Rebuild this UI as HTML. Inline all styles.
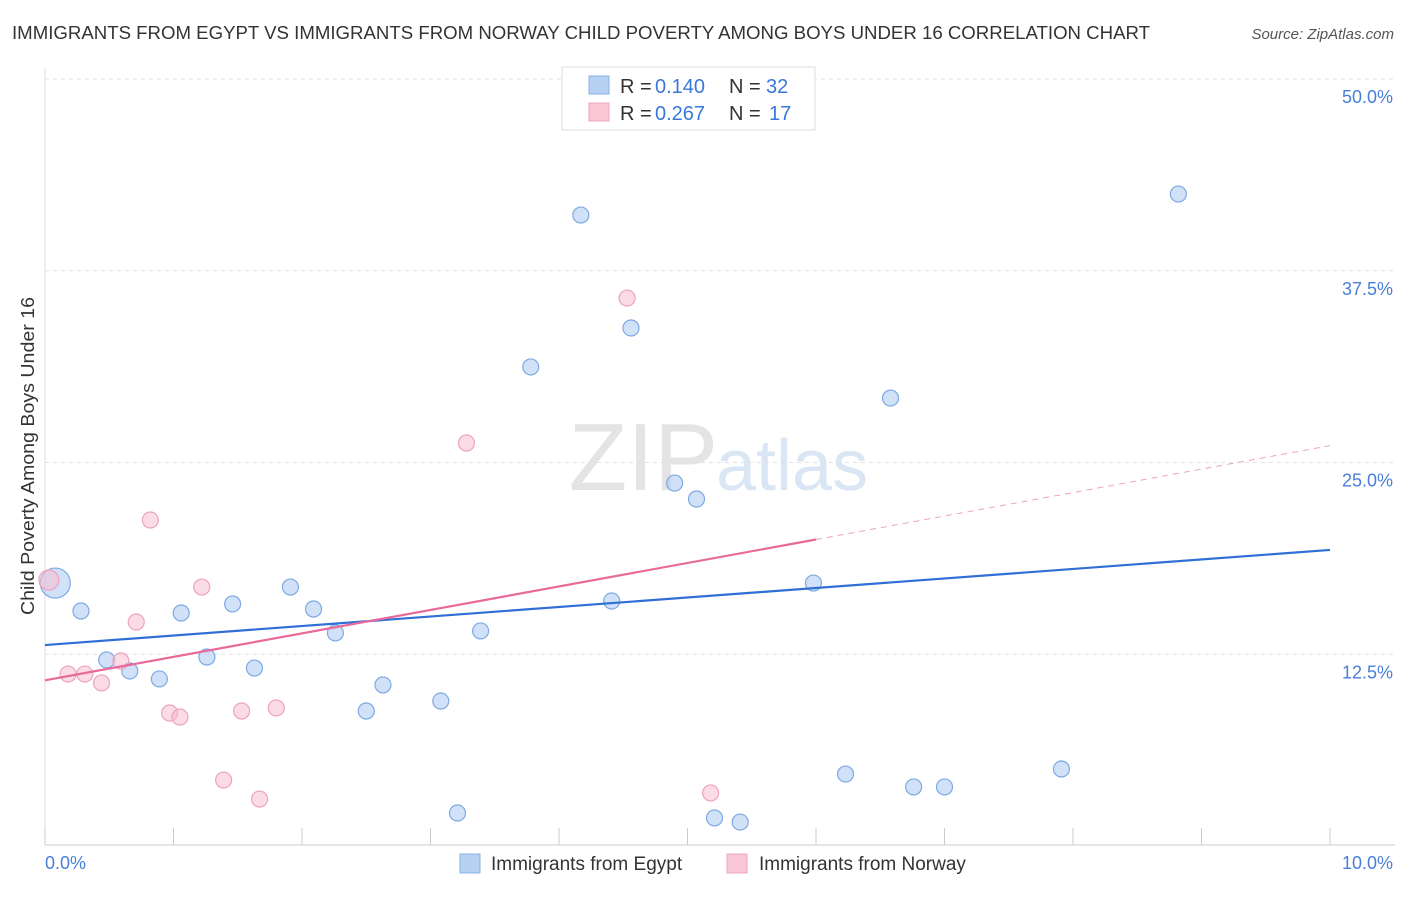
<!DOCTYPE html>
<html><head><meta charset="utf-8"><style>
body{margin:0;background:#fff;font-family:"Liberation Sans",sans-serif;}
svg text{font-family:"Liberation Sans",sans-serif;}
</style></head><body>
<svg id="chart" width="1406" height="892">
<text x="12" y="39" font-size="18" fill="#333" textLength="1138" lengthAdjust="spacingAndGlyphs">IMMIGRANTS FROM EGYPT VS IMMIGRANTS FROM NORWAY CHILD POVERTY AMONG BOYS UNDER 16 CORRELATION CHART</text>
<text x="1394" y="39" font-size="15" fill="#555" font-style="italic" text-anchor="end">Source: ZipAtlas.com</text>
<text x="718" y="490" font-size="96" fill="#e4e4e4" text-anchor="end" font-family="Liberation Serif">ZIP</text>
<text x="716" y="490" font-size="72" fill="#dbe6f5">atlas</text>
<g id="grid"></g><g id="marks"></g>
<text transform="translate(34,456) rotate(-90)" font-size="18.5" fill="#333" text-anchor="middle" textLength="318" lengthAdjust="spacingAndGlyphs">Child Poverty Among Boys Under 16</text>
<text x="45" y="869" font-size="18" fill="#4a7fd8">0.0%</text>
<text x="1393" y="869" font-size="18" fill="#4a7fd8" text-anchor="end">10.0%</text>
<g>
<rect x="562" y="67" width="253" height="63" fill="#fff" stroke="#ddd"/>
<rect x="589" y="76" width="20" height="18" fill="#b7d1f3" stroke="#8ab0e6"/>
<rect x="589" y="103" width="20" height="18" fill="#f8c6d5" stroke="#eea6bd"/>
<text x="620" y="93" font-size="20" fill="#333">R =</text>
<text x="655" y="93" font-size="20" fill="#3a78d8">0.140</text>
<text x="729" y="93" font-size="20" fill="#333">N =</text>
<text x="766" y="93" font-size="20" fill="#3a78d8">32</text>
<text x="620" y="120" font-size="20" fill="#333">R =</text>
<text x="655" y="120" font-size="20" fill="#3a78d8">0.267</text>
<text x="729" y="120" font-size="20" fill="#333">N =</text>
<text x="769" y="120" font-size="20" fill="#3a78d8">17</text>
</g>
<g>
<rect x="460" y="854" width="20" height="19" fill="#b7d1f3" stroke="#8ab0e6"/>
<text x="491" y="870" font-size="19" fill="#333">Immigrants from Egypt</text>
<rect x="727" y="854" width="20" height="19" fill="#f8c6d5" stroke="#eea6bd"/>
<text x="759" y="870" font-size="19" fill="#333">Immigrants from Norway</text>
</g>
</svg>
<script>
const egyptX=[0.08,0.28,0.48,0.66,0.89,1.06,1.26,1.46,1.63,1.91,2.09,2.26,2.50,2.63,3.08,3.21,3.39,3.78,4.17,4.41,4.56,4.90,5.07,5.21,5.41,5.98,6.23,6.58,6.76,7.00,7.91,8.82];
const egyptY=[17.14,15.32,12.13,11.41,10.89,15.19,12.32,15.78,11.60,16.88,15.45,13.89,8.80,10.50,9.45,2.15,14.02,31.23,41.13,15.97,33.77,23.66,22.62,1.83,1.56,17.14,4.69,29.20,3.85,3.85,5.02,42.50];
const norwayX=[0.03,0.18,0.31,0.44,0.59,0.71,0.82,0.97,1.05,1.22,1.39,1.53,1.67,1.80,3.28,4.53,5.18];
const norwayY=[17.34,11.21,11.21,10.63,12.06,14.60,21.25,8.67,8.41,16.88,4.30,8.80,3.06,9.00,26.27,35.72,3.46];
const yTicks=[12.5,25.0,37.5,50.0];
const xTicks=[0,1,2,3,4,5,6,7,8,9,10];
const egyptTrend=[13.1,19.3];
const norwayTrend=[10.8,26.1];
const norwaySolidEnd=6.0;
const X=v=>45+v*128.5, Y=v=>846-v*15.34;
const NS="http://www.w3.org/2000/svg";
const grid=document.getElementById('grid'), marks=document.getElementById('marks');
function mk(tag,attrs,parent){const e=document.createElementNS(NS,tag);for(const k in attrs)e.setAttribute(k,attrs[k]);parent.appendChild(e);return e;}
const ax=mk('line',{x1:45,y1:68,x2:45,y2:845,stroke:'#ddd'},grid);


const bx=mk('line',{x1:45,y1:845,x2:1395,y2:845,stroke:'#ccc'},grid);


yTicks.forEach(t=>{
 const l=mk('line',{x1:45,y1:Y(t),x2:1395,y2:Y(t),stroke:'#e2e2e2','stroke-dasharray':'4,4'},grid);
 
 
 const tx=mk('text',{x:1393,y:Y(t)+24,'font-size':18,fill:'#4a7fd8','text-anchor':'end'},grid);
 tx.textContent=t.toFixed(1)+'%';
 
 
});
xTicks.forEach(t=>{
 const l=mk('line',{x1:X(t),y1:828,x2:X(t),y2:845,stroke:'#ccc'},grid);
 
 
});
egyptX.forEach((x,i)=>{
 const c=mk('circle',{cx:X(x),cy:Y(egyptY[i]),r:i===0?15:8,fill:'rgba(170,200,242,0.55)',stroke:'#7ea9e2','stroke-width':1.2},marks);
 
 
});
norwayX.forEach((x,i)=>{
 const c=mk('circle',{cx:X(x),cy:Y(norwayY[i]),r:i===0?10:8,fill:'rgba(247,190,208,0.55)',stroke:'#eea3bb','stroke-width':1.2},marks);
 
 
});
const tl=mk('line',{x1:X(0),y1:Y(egyptTrend[0]),x2:X(10),y2:Y(egyptTrend[1]),stroke:'#2f6fd6','stroke-width':2.2},marks);


const ny=x=>norwayTrend[0]+(norwayTrend[1]-norwayTrend[0])*x/10;
const pl=mk('line',{x1:X(0),y1:Y(ny(0)),x2:X(norwaySolidEnd),y2:Y(ny(norwaySolidEnd)),stroke:'#e8699a','stroke-width':2.2},marks);


const pd=mk('line',{x1:X(norwaySolidEnd),y1:Y(ny(norwaySolidEnd)),x2:X(10),y2:Y(ny(10)),stroke:'#eea3bb','stroke-width':1,'stroke-dasharray':'6,5'},marks);


</script>
</body></html>
